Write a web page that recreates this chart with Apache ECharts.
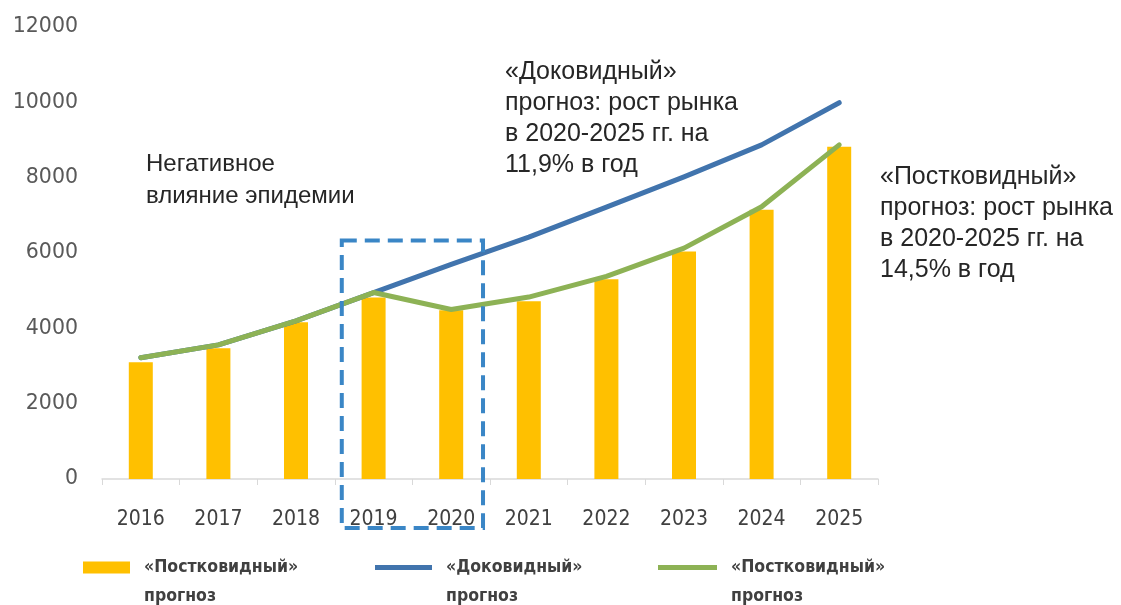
<!DOCTYPE html>
<html><head><meta charset="utf-8">
<script src="https://cdn.jsdelivr.net/npm/echarts@6/dist/echarts.min.js"></script>
<style>html,body{margin:0;padding:0;background:#fff}#c{width:1121px;height:605px}</style>
</head><body><div id="c"></div>
<script>
const categories = ['2016','2017','2018','2019','2020','2021','2022','2023','2024','2025'];
const postBars = [3100, 3470, 4160, 4820, 4480, 4720, 5300, 6040, 7150, 8820];
const dokLine  = [3220, 3560, 4200, 4950, 5700, 6420, 7220, 8020, 8870, 9990];
const postLine = [3220, 3560, 4200, 4950, 4500, 4830, 5380, 6130, 7230, 8870];
const yMin = 0, yMax = 12000, yStep = 2000;
const legendLabels = {
  post_bar: '«Постковидный»\nпрогноз',
  dok: '«Доковидный»\nпрогноз',
  post_line: '«Постковидный»\nпрогноз'
};
const noteCovid = 'Негативное\nвлияние эпидемии';
const noteDok = '«Доковидный»\nпрогноз: рост рынка\nв 2020-2025 гг. на\n11,9% в год';
const notePost = '«Постковидный»\nпрогноз: рост рынка\nв 2020-2025 гг. на\n14,5% в год';

const YELLOW = '#FFC000', BLUE = '#4174AD', GREEN = '#8DB255';
const chart = echarts.init(document.getElementById('c'), null, {renderer: 'canvas'});

function mkLegend(name, left, w, h) {
  return {
    data: [name], left: left, top: 524, padding: 0, orient: 'horizontal',
    icon: 'rect', itemWidth: w, itemHeight: h,
    itemStyle: {borderWidth: 0},
    selectedMode: false,
    formatter: n => '\n' + legendLabels[n],
    textStyle: {
      fontFamily: 'DejaVu Sans Condensed, DejaVu Sans', fontWeight: 'bold',
      fontSize: 17.5, color: '#404040', lineHeight: 29, padding: [0, 0, 0, 9]
    }
  };
}

const option = {
  backgroundColor: '#fff',
  animation: false,
  grid: {left: 102, right: 243, top: 27, bottom: 126, containLabel: false},
  legend: [
    mkLegend('post_bar', 83, 47, 12),
    mkLegend('dok', 375, 57, 5),
    mkLegend('post_line', 658, 59, 5)
  ],
  xAxis: {
    type: 'category', data: categories, boundaryGap: true,
    axisLine: {lineStyle: {color: '#d9d9d9', width: 1.5}},
    axisTick: {show: true, length: 6, lineStyle: {color: '#d9d9d9'}},
    axisLabel: {margin: 30, fontSize: 21, color: '#404040',
      fontFamily: 'DejaVu Sans Condensed, DejaVu Sans'}
  },
  yAxis: {
    type: 'value', min: yMin, max: yMax, interval: yStep,
    axisLine: {show: false}, axisTick: {show: false}, splitLine: {show: false},
    axisLabel: {margin: 24, fontSize: 20.5, color: '#595959', fontFamily: 'DejaVu Sans',
      formatter: v => String(v)}
  },
  series: [
    {name: 'post_bar', type: 'bar', data: postBars, barWidth: 24,
      itemStyle: {color: YELLOW}},
    {name: 'dok', type: 'line', data: dokLine, symbol: 'none', smooth: false,
      lineStyle: {color: BLUE, width: 5, cap: 'round', join: 'round'}, itemStyle: {color: BLUE}},
    {name: 'post_line', type: 'line', data: postLine, symbol: 'none', smooth: false,
      lineStyle: {color: GREEN, width: 5, cap: 'round', join: 'round'}, itemStyle: {color: GREEN}}
  ]
};
chart.setOption(option);

const x19 = chart.convertToPixel({xAxisIndex: 0}, '2019');
const x20 = chart.convertToPixel({xAxisIndex: 0}, '2020');
const step = x20 - x19;
const yTop = chart.convertToPixel({yAxisIndex: 0}, 6330);
const yZero = chart.convertToPixel({yAxisIndex: 0}, 0);
const txt = {fontFamily: 'Liberation Sans, Arial', fontSize: 25, fill: '#262626', lineHeight: 31};
chart.setOption({
  graphic: [
    {type: 'rect', z: 10,
      shape: {x: x19 - 0.41 * step, y: yTop, width: step * 1.82, height: yZero + 49 - yTop},
      style: {fill: 'none', stroke: '#3A86C6', lineWidth: 4, lineDash: [15, 8]}},
    {type: 'text', left: 146, top: 148, style: Object.assign({text: noteCovid}, txt, {fontSize: 24, lineHeight: 32})},
    {type: 'text', left: 505, top: 57, style: Object.assign({text: noteDok}, txt)},
    {type: 'text', left: 880, top: 162, style: Object.assign({text: notePost}, txt)}
  ]
});
</script></body></html>
